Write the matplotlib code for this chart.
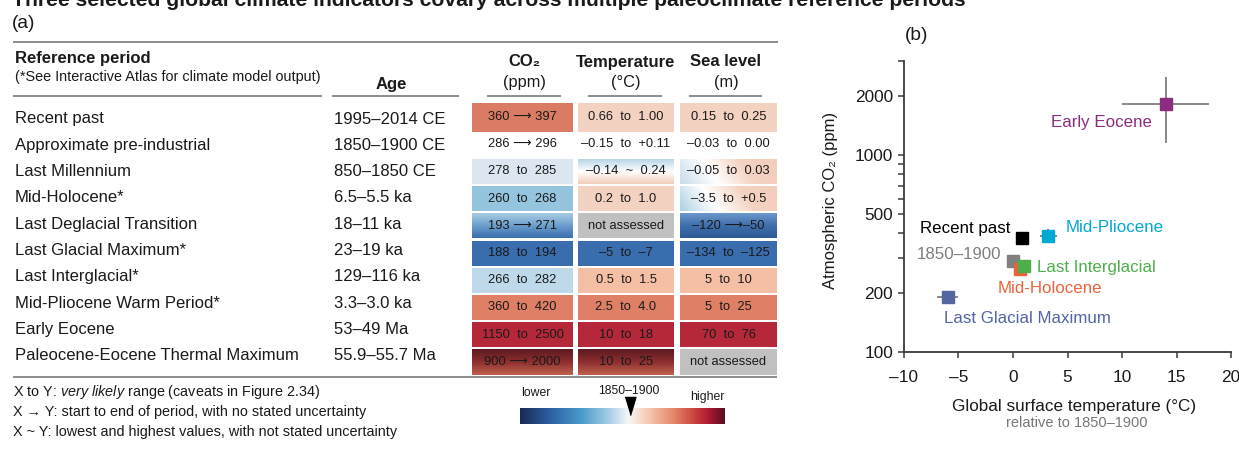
"""
Paleoclimate reference periods: table of CO2 / temperature / sea level (a)
and CO2 vs temperature scatter (b).
"""

import matplotlib
matplotlib.use("Agg")
import matplotlib.pyplot as plt
import numpy as np
from matplotlib import font_manager
from matplotlib.colors import LinearSegmentedColormap
from matplotlib.patches import Rectangle
from matplotlib.ticker import FixedLocator, FuncFormatter, NullFormatter


# ---- panel (a): table content ----
periods = [
    "Recent past", "Approximate pre-industrial", "Last Millennium", "Mid-Holocene*",
    "Last Deglacial Transition", "Last Glacial Maximum*", "Last Interglacial*",
    "Mid-Pliocene Warm Period*", "Early Eocene", "Paleocene-Eocene Thermal Maximum",
]
ages = [
    "1995–2014 CE", "1850–1900 CE", "850–1850 CE", "6.5–5.5 ka", "18–11 ka",
    "23–19 ka", "129–116 ka", "3.3–3.0 ka", "53–49 Ma", "55.9–55.7 Ma",
]
co2_ranges = [
    "360 ⟶ 397", "286 ⟶ 296", "278  to  285", "260  to  268", "193 ⟶ 271",
    "188  to  194", "266  to  282", "360  to  420", "1150  to  2500", "900 ⟶ 2000",
]
temp_ranges = [
    "0.66  to  1.00", "–0.15  to  +0.11", "–0.14  ~  0.24", "0.2  to  1.0", "not assessed",
    "–5  to  –7", "0.5  to  1.5", "2.5  to  4.0", "10  to  18", "10  to  25",
]
sea_ranges = [
    "0.15  to  0.25", "–0.03  to  0.00", "–0.05  to  0.03", "–3.5  to  +0.5", "–120 ⟶–50",
    "–134  to  –125", "5  to  10", "5  to  25", "70  to  76", "not assessed",
]
footnotes = [
    r"X to Y: $\mathit{very\ likely}$ range (caveats in Figure 2.34)",
    "X → Y: start to end of period, with no stated uncertainty",
    "X ~ Y: lowest and highest values, with not stated uncertainty",
]

# ---- panel (b): scatter content ----
pt_names = ["1850–1900", "Recent past", "Mid-Holocene", "Last Interglacial",
            "Mid-Pliocene", "Last Glacial Maximum", "Early Eocene"]
pt_temp = [-0.02, 0.83, 0.6, 1.0, 3.25, -6.0, 14.0]
pt_temp_lo = [-0.15, 0.66, 0.2, 0.5, 2.5, -7.0, 10.0]
pt_temp_hi = [0.11, 1.00, 1.0, 1.5, 4.0, -5.0, 18.0]
pt_co2 = [291, 378, 264, 274, 390, 191, 1825]
pt_co2_lo = [286, 360, 260, 266, 360, 188, 1150]
pt_co2_hi = [296, 397, 268, 282, 420, 194, 2500]

# ---- styles ----
available = {f.name for f in font_manager.fontManager.ttflist}
NARROW = "Liberation Sans Narrow" if "Liberation Sans Narrow" in available else None
plt.rcParams["font.family"] = ["Liberation Sans", "DejaVu Sans"]
plt.rcParams["mathtext.fontset"] = "custom"
plt.rcParams["mathtext.rm"] = "Liberation Sans"
plt.rcParams["mathtext.it"] = "Liberation Sans:italic"

CELL_FAMILY = [NARROW, "DejaVu Sans"] if NARROW else ["Liberation Sans", "DejaVu Sans"]
CELL_FS = 11.0 if NARROW else 9.3

PEACH = "#F3D2C1"
SALMON_L = "#F5BFA6"
SALMON = "#DF7F66"
CRIMSON = "#B5283A"
BLUE_D = "#3A6DAE"
GREY = "#C0C0C0"
PETM = ("v", ["#5C1A20", "#8E2F30", "#C0614F"])

co2_fill = ["#DA7B63", None, "#DCE6F0", "#95C4DE", ("v", ["#A8CCE3", "#6C9FCD", "#3A6EAE"]),
            BLUE_D, "#BEDAEA", SALMON, CRIMSON, PETM]
temp_fill = [PEACH, None, ("v", ["#B9D6E7", "#FFFFFF", "#F2CDBB"]), PEACH, GREY,
             BLUE_D, SALMON_L, SALMON, CRIMSON, PETM]
sea_fill = [PEACH, None, ("h", ["#C8DDEB", "#FFFFFF", "#F4D3C2", "#F2CDBB"]),
            ("h", ["#AED0E5", "#FFFFFF", "#F4D3C2", "#F2CDBB"]),
            ("v", ["#6C98CA", "#3F6EAC", "#2C5A97"]),
            BLUE_D, SALMON_L, SALMON, CRIMSON, GREY]

pt_colors = ["#808080", "#000000", "#E8643C", "#4DAF4A", "#00A9D1", "#5465A3", "#8B2C80"]
label_colors = ["#7F7F7F", "#000000", "#E8643C", "#4DAF4A", "#00A9D1", "#5465A3", "#8B2C80"]
# label offsets from each point (points), alignment
label_offsets = [(-8.6, 4.5), (-8.6, 7.2), (-15.8, -14.4), (9.4, -1.4),
                 (12.2, 5.8), (-2.9, -15.8), (-10.0, -13.7)]
label_ha = ["right", "right", "left", "left", "left", "left", "right"]

bar_colors = ["#1A2A55", "#2C62A5", "#4B9BCB", "#A9D0E6", "#F7F7F7", "#F6CDB5",
              "#E5876A", "#C73E3C", "#A8172F", "#5A1022"]
bar_stops = [0.0, 0.15, 0.3, 0.44, 0.53, 0.62, 0.75, 0.86, 0.93, 1.0]

LINE_GREY = "#8C8C8C"
TEXT = "#1A1A1A"


def draw_cell(ax, x0, x1, yc, h, fill):
    if fill is None:
        return
    y0, y1 = yc - h / 2, yc + h / 2
    if isinstance(fill, str):
        ax.add_patch(Rectangle((x0, y0), x1 - x0, h, facecolor=fill, edgecolor="none", zorder=1))
        return
    direction, colors = fill
    cmap = LinearSegmentedColormap.from_list("cell", colors)
    ramp = np.linspace(0, 1, 64)
    if direction == "v":
        grad = ramp[:, None]
    else:
        xx, yy = np.meshgrid(ramp, ramp)
        grad = np.clip(0.85 * xx + 0.15 * (1 - yy), 0, 1)
    ax.imshow(grad, cmap=cmap, extent=(x0, x1, y1, y0), origin="upper",
              aspect="auto", interpolation="bilinear", zorder=1)


def draw_table(fig, ax):
    # title, cut off by the top edge as in the source
    title = ax.text(12, 6, "Three selected global climate indicators covary across multiple "
                    "paleoclimate reference periods", fontsize=12, fontweight="bold",
                    ha="left", va="baseline", color=TEXT)
    r = fig.canvas.get_renderer()
    w = title.get_window_extent(renderer=r).width
    title.set_fontsize(title.get_fontsize() * 950 / w)

    ax.text(12, 24, "(a)", fontsize=13.8, ha="left", va="center", color=TEXT)

    ax.plot([13, 778], [42, 42], color=LINE_GREY, lw=1.4, solid_capstyle="butt")
    ax.plot([13, 777], [377, 377], color=LINE_GREY, lw=1.4, solid_capstyle="butt")

    ax.text(15, 58, "Reference period", fontsize=12, fontweight="bold", ha="left", va="center",
            color=TEXT)
    ax.text(15, 77, "(*See Interactive Atlas for climate model output)", fontsize=10.4,
            ha="left", va="center", color=TEXT)
    ax.text(391, 84, "Age", fontsize=12, fontweight="bold", ha="center", va="center", color=TEXT)

    headers = [("CO₂", "(ppm)", 524, (487, 561)),
               ("Temperature", "(°C)", 626, (588, 662)),
               ("Sea level", "(m)", 726, (689, 762))]
    for name, unit, xc, (u0, u1) in headers:
        ax.text(xc, 62, name, fontsize=12, fontweight="bold", ha="center", va="center", color=TEXT)
        ax.text(xc, 82, unit, fontsize=11.8, ha="center", va="center", color=TEXT)
        ax.plot([u0, u1], [96, 96], color=LINE_GREY, lw=1.4, solid_capstyle="butt")
    for u0, u1 in [(13, 322), (332, 459)]:
        ax.plot([u0, u1], [96, 96], color=LINE_GREY, lw=1.4, solid_capstyle="butt")

    label_y = 119 + 26.3 * np.arange(len(periods))
    for y, period, age in zip(label_y, periods, ages):
        ax.text(15, y, period, fontsize=12, ha="left", va="center", color=TEXT)
        ax.text(334, y, age, fontsize=12, ha="left", va="center", color=TEXT)

    row_y = 117 + 27.2 * np.arange(len(periods))
    heights = [29] + [25] * 8 + [26]
    columns = [((472, 573), co2_ranges, co2_fill),
               ((578, 674), temp_ranges, temp_fill),
               ((680, 777), sea_ranges, sea_fill)]
    for (x0, x1), texts, fills in columns:
        for y, h, s, f in zip(row_y, heights, texts, fills):
            draw_cell(ax, x0, x1, y, h, f)
            ax.text((x0 + x1) / 2, y, s, fontsize=CELL_FS, family=CELL_FAMILY,
                    ha="center", va="center", color=TEXT, zorder=3)

    for i, line in enumerate(footnotes):
        ax.text(13, 392 + 20 * i, line, fontsize=10.4, ha="left", va="center", color=TEXT)

    # colour key
    cmap = LinearSegmentedColormap.from_list("key", list(zip(bar_stops, bar_colors)))
    ax.imshow(np.linspace(0, 1, 256)[None, :], cmap=cmap, extent=(520, 725, 424, 408),
              aspect="auto", interpolation="bilinear", zorder=1)
    ax.plot([630], [406], marker=[(-0.6, 1), (0.6, 1), (0, -1)], markersize=13,
            color="black", linestyle="none", zorder=3)
    ax.text(536, 393, "lower", fontsize=CELL_FS * 0.95, family=CELL_FAMILY,
            ha="center", va="center", color=TEXT)
    ax.text(629, 391, "1850–1900", fontsize=CELL_FS * 0.95, family=CELL_FAMILY,
            ha="center", va="center", color=TEXT)
    ax.text(707, 397, "higher", fontsize=CELL_FS * 0.95, family=CELL_FAMILY,
            ha="center", va="center", color=TEXT)

    ax.text(917, 35, "(b)", fontsize=13.8, ha="center", va="center", color=TEXT)
    ax.text(1077, 423, "relative to 1850–1900", fontsize=10.5, ha="center", va="center",
            color="#777777")

    ax.set_xlim(0, 1239)
    ax.set_ylim(455, 0)
    ax.axis("off")


def draw_scatter(ax):
    temp = np.array(pt_temp)
    co2 = np.array(pt_co2)
    xerr = [temp - np.array(pt_temp_lo), np.array(pt_temp_hi) - temp]
    yerr = [co2 - np.array(pt_co2_lo), np.array(pt_co2_hi) - co2]
    ax.errorbar(temp, co2, xerr=xerr, yerr=yerr, fmt="none", ecolor="#7F7F7F",
                elinewidth=1.3, capsize=0, zorder=2)
    for i, name in enumerate(pt_names):
        ax.plot(temp[i], co2[i], marker="s", markersize=8, color=pt_colors[i],
                linestyle="none", zorder=3 + i)
        ax.annotate(name, (temp[i], co2[i]), xytext=label_offsets[i], textcoords="offset points",
                    ha=label_ha[i], va="center", fontsize=12.2, color=label_colors[i], zorder=10)

    ax.set_yscale("log")
    ax.set_xlim(-10, 20)
    ax.set_ylim(100, 3000)
    ax.xaxis.set_major_locator(FixedLocator([-10, -5, 0, 5, 10, 15, 20]))
    ax.xaxis.set_major_formatter(FuncFormatter(lambda v, p: f"{v:g}".replace("-", "–")))
    ax.yaxis.set_major_locator(FixedLocator([100, 200, 500, 1000, 2000]))
    ax.yaxis.set_major_formatter(FuncFormatter(lambda v, p: f"{v:g}"))
    ax.yaxis.set_minor_locator(FixedLocator([300, 400, 600, 700, 800, 900, 3000]))
    ax.yaxis.set_minor_formatter(NullFormatter())

    for side in ("top", "right"):
        ax.spines[side].set_visible(False)
    for side in ("left", "bottom"):
        ax.spines[side].set_color("#3A3A3A")
        ax.spines[side].set_linewidth(1.3)
    ax.tick_params(which="both", direction="out", length=4, width=1.1, color="#3A3A3A",
                   labelsize=12.4, labelcolor=TEXT)
    ax.tick_params(axis="x", pad=9)
    ax.tick_params(axis="y", pad=4)

    ax.set_ylabel("Atmospheric CO₂ (ppm)", fontsize=12, color=TEXT, va="center")
    ax.yaxis.set_label_coords(-0.226, 0.52)
    ax.set_xlabel("Global surface temperature (°C)", fontsize=12.3, color=TEXT, va="center")
    ax.xaxis.set_label_coords(0.52, -0.186)
    ax.patch.set_alpha(0)


def main() -> None:
    fig = plt.figure(figsize=(12.39, 4.55), dpi=100)
    axa = fig.add_axes([0, 0, 1, 1])
    axa.set_zorder(0)
    axb = fig.add_axes([904 / 1239, (455 - 352) / 455, 327 / 1239, 291 / 455])
    axb.set_zorder(1)

    draw_table(fig, axa)
    draw_scatter(axb)

    fig.savefig("out.png", dpi=100)
    plt.close(fig)


if __name__ == "__main__":
    main()
